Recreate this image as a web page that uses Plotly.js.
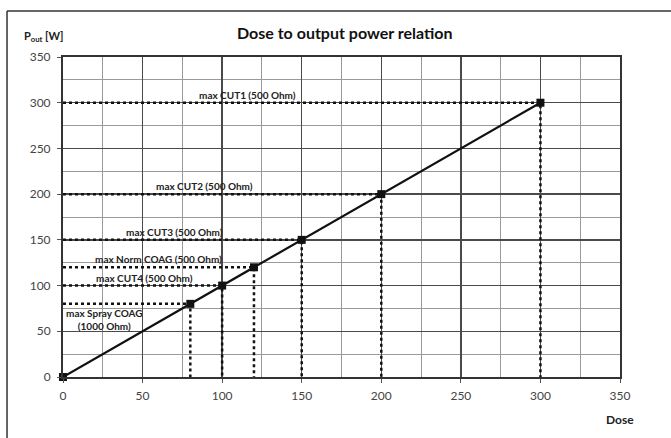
<!DOCTYPE html>
<html>
<head>
<meta charset="utf-8">
<script src="https://cdn.plot.ly/plotly-3.0.1.min.js"></script>
<style>
  html, body { margin: 0; padding: 0; background: #fff; }
  #chart { width: 671px; height: 438px; }
</style>
</head>
<body>
<div id="chart"></div>
<script>
// Dose setting vs. output power (W)
const dose = [0, 80, 100, 120, 150, 200, 300];
const power = [0, 80, 100, 120, 150, 200, 300];

// Operating-mode limits marked by dotted guides
const limitDose = [300, 200, 150, 120, 100, 80];
const limitPower = [300, 200, 150, 120, 100, 80];
const limitLabels = [
  'max CUT1 (500 Ohm)',
  'max CUT2 (500 Ohm)',
  'max CUT3 (500 Ohm)',
  'max Norm COAG (500 Ohm)',
  'max CUT4 (500 Ohm)',
  'max Spray COAG<br>(1000 Ohm)'
];
// where each label sits along its guide (dose units)
const labelDose = [116, 89, 70, 60, 51.5, 26];

const axisTicks = [0, 50, 100, 150, 200, 250, 300, 350];

const FONT = 'Lato, "Open Sans", sans-serif';
const traces = [];

// dotted guides: horizontal to the axis, vertical down to zero
const gx = [], gy = [];
limitDose.forEach((d, i) => {
  gx.push(0, d, d, null);
  gy.push(limitPower[i], limitPower[i], 0, null);
});
traces.push({
  x: gx, y: gy, mode: 'lines', type: 'scatter',
  line: { color: '#111', width: 2.5, dash: 'dot' },
  hoverinfo: 'skip', cliponaxis: false
});

// main relation
traces.push({
  x: dose, y: power, mode: 'lines+markers', type: 'scatter',
  line: { color: '#111', width: 2.2 },
  marker: { symbol: 'square', size: 8, color: '#111' },
  cliponaxis: false
});

const annotations = limitLabels.map((t, i) => ({
  x: labelDose[i], y: limitPower[i], xref: 'x', yref: 'y',
  text: '<b>' + t + '</b>', showarrow: false,
  xanchor: 'center',
  yanchor: i === 5 ? 'top' : 'bottom', yshift: i === 5 ? -1 : 0,
  font: { family: FONT, size: 10, color: '#222' }
}));

annotations.push(
  { x: 0.506, y: 1.0, xref: 'paper', yref: 'paper', xanchor: 'center', yanchor: 'bottom', yshift: 13,
    text: '<b>Dose to output power relation</b>', showarrow: false,
    font: { family: FONT, size: 16, color: '#111' } },
  { x: -0.074, y: 1.0, xref: 'paper', yref: 'paper', xanchor: 'left', yanchor: 'bottom', yshift: 11,
    text: '<b>P<sub>out</sub> [W]</b>', showarrow: false,
    font: { family: FONT, size: 11, color: '#222' } },
  { x: 1.0, y: 0, xref: 'paper', yref: 'paper', xanchor: 'center', yanchor: 'top', yshift: -33,
    text: '<b>Dose</b>', showarrow: false,
    font: { family: FONT, size: 12, color: '#222' } }
);

const axisCommon = {
  range: [0, 350], tickvals: axisTicks, ticktext: axisTicks.map(String),
  showgrid: true, gridcolor: '#4a4a4a', gridwidth: 1.5,
  minor: { dtick: 25, tick0: 0, showgrid: true, gridcolor: '#9a9a9a', gridwidth: 1 },
  showline: true, mirror: true, linecolor: '#333', linewidth: 2,
  ticks: 'outside', ticklen: 4, tickcolor: '#555', tickwidth: 1,
  zeroline: false, fixedrange: true,
  tickfont: { family: FONT, size: 12, color: '#444' }
};

const layout = {
  width: 671, height: 438,
  margin: { l: 63, r: 51, t: 57, b: 61 },
  paper_bgcolor: '#fff', plot_bgcolor: '#fff',
  showlegend: false,
  xaxis: Object.assign({}, axisCommon, { ticklabelstandoff: 3 }),
  yaxis: Object.assign({}, axisCommon, { ticklabelstandoff: 4 }),
  annotations: annotations,
  shapes: [
    { type: 'line', xref: 'paper', yref: 'paper', x0: -0.1005, x1: -0.1005, y0: -0.3, y1: 1.144,
      line: { color: '#333', width: 1.5 } },
    { type: 'line', xref: 'paper', yref: 'paper', x0: -0.1005, x1: 1.2, y0: 1.144, y1: 1.144,
      line: { color: '#333', width: 1.5 } }
  ]
};

Plotly.newPlot('chart', traces, layout, { displayModeBar: false, staticPlot: true });
</script>
</body>
</html>
